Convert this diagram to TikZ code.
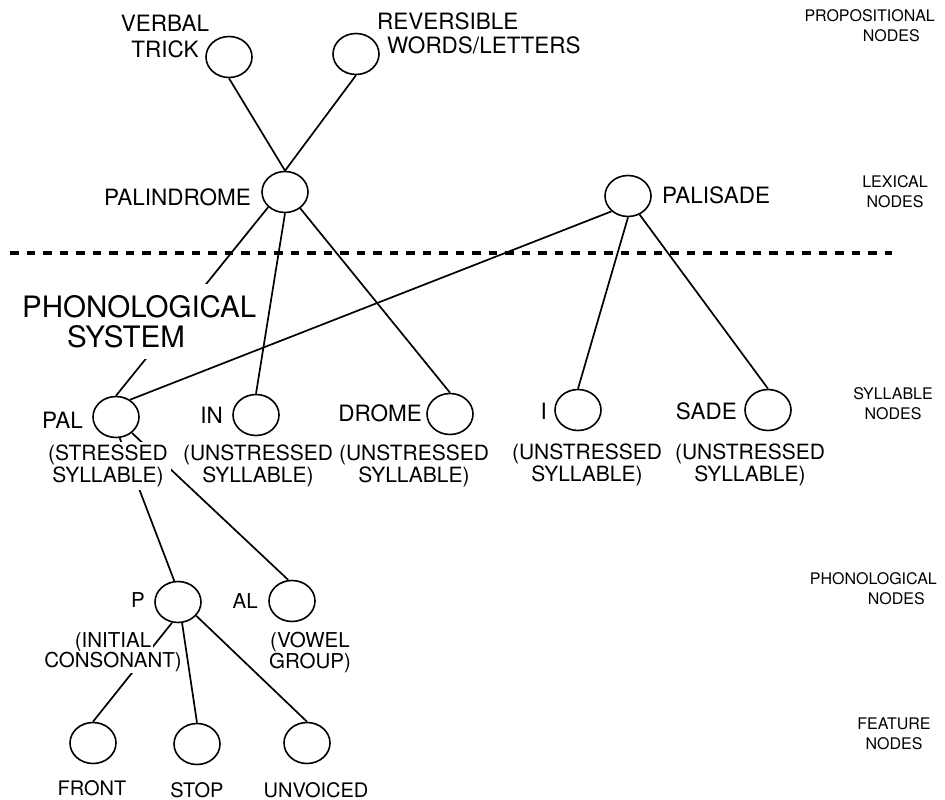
\documentclass[tikz,border=0pt]{standalone}
\usepackage{fontspec}
\setmainfont{TeX Gyre Heros}
\usetikzlibrary{shapes.geometric}
\newcommand\myfs[2]{\fontsize{#1}{#2}\selectfont}
\begin{document}
\begin{tikzpicture}[x=1pt,y=-1pt,
  unit/.style={ellipse, draw, line width=1.6pt, minimum width=46pt, minimum height=41pt, inner sep=0pt},
  lab/.style={inner sep=0pt, font=\myfs{22.5}{26}},
  smlab/.style={inner sep=0pt, font=\myfs{20.5}{21}},
  paren/.style={inner sep=0pt, font=\myfs{21}{22}, align=center},
  side/.style={inner sep=0pt, font=\myfs{16}{20}},
  link/.style={line width=1.7pt},
  divider/.style={line width=3.2pt, dash pattern=on 8.5pt off 8pt},
  hide/.style={fill=white}]
\useasboundingbox (0,0) rectangle (945,800);

% ---- unit nodes
\node[unit] (verbal) at (229,57) {};
\node[unit] (rev) at (356,54) {};
\node[unit] (palin) at (285,192) {};
\node[unit] (palis) at (628,196) {};
\node[unit] (pal) at (116,417) {};
\node[unit] (in) at (256,415) {};
\node[unit] (drome) at (450,414) {};
\node[unit] (i) at (578,410) {};
\node[unit] (sade) at (768,410) {};
\node[unit] (p) at (178,602) {};
\node[unit] (al) at (292,601) {};
\node[unit] (front) at (93,743) {};
\node[unit] (stop) at (197,744) {};
\node[unit] (unv) at (307,743) {};

% ---- labels
\node[lab, align=center, anchor=north] (verballab) at (165,15) {VERBAL\\TRICK};
\node[lab, align=left, anchor=north west, font=\myfs{22.5}{24}] (revlab) at (377,12) {REVERSIBLE\\\hspace*{10pt}WORDS/LETTERS};
\node[lab, anchor=east] (palinlab) at (251,197) {PALINDROME};
\node[lab, anchor=west] (palislab) at (662,195) {PALISADE};
\node[lab, anchor=east] (pallab) at (83,420) {PAL};
\node[lab, anchor=east] (inlab) at (223,415) {IN};
\node[lab, anchor=east] (dromelab) at (422,413) {DROME};
\node[lab, anchor=east] (ilab) at (547,411) {I};
\node[lab, anchor=east] (sadelab) at (737,411) {SADE};
\node[smlab, anchor=east] (plab) at (145,600) {P};
\node[smlab, anchor=east] (allab) at (258,601) {AL};
\node[paren, anchor=north] (inpar) at (258,445) {(UNSTRESSED\\SYLLABLE)};
\node[paren, anchor=north] (dromepar) at (414,445) {(UNSTRESSED\\SYLLABLE)};
\node[paren, anchor=north] (ipar) at (587,444) {(UNSTRESSED\\SYLLABLE)};
\node[paren, anchor=north] (sadepar) at (750,444) {(UNSTRESSED\\SYLLABLE)};
\node[paren, font=\myfs{20.5}{21}, anchor=north] (alpar) at (310,632) {(VOWEL\\GROUP)};
\node[smlab, font=\myfs{20}{22}, anchor=north] (frontlab) at (92,780) {FRONT};
\node[smlab, font=\myfs{20}{22}, anchor=north] (stoplab) at (197,782) {STOP};
\node[smlab, font=\myfs{20}{22}, anchor=north] (unvlab) at (316,782) {UNVOICED};

% ---- level labels
\node[side, align=right, anchor=north east] (propl) at (935,9) {PROPOSITIONAL\\NODES\hspace*{15pt}};
\node[side, align=center, anchor=north] (lexl) at (895,175) {LEXICAL\\NODES};
\node[side, align=center, anchor=north] (syll) at (893,387) {SYLLABLE\\NODES};
\node[side, align=right, anchor=north east] (phonl) at (937,572) {PHONOLOGICAL\\NODES\hspace*{12pt}};
\node[side, align=center, anchor=north] (featl) at (894,718) {FEATURE\\NODES};

% ---- divider
\coordinate (dl) at (10,253);
\coordinate (dr) at (892,253);
\draw[divider] (dl) -- (dr);

% ---- connectors
\draw[link] (verbal.south) -- (palin.north);
\draw[link] (rev.south) -- (palin.north);
\draw[link] (palin.222) -- (pal.north);
\node[hide, inner xsep=2pt, inner ysep=11pt, align=left, anchor=north west, font=\myfs{29.5}{30}] (phonsys) at (20,284) {PHONOLOGICAL\\\hspace*{45pt}SYSTEM};
\draw[link] (palin.south) -- (in.north);
\draw[link] (palin.-47) -- (drome.north);
\draw[link] (palis.223) -- (pal.51);
\draw[link] (palis.south) -- (i.north);
\draw[link] (palis.-58) -- (sade.north);
\draw[link] (pal.-80) -- (p.100);
\draw[link] (pal.-45) -- (al.100);
\draw[link] (p.254) -- (front.north);
\draw[link] (p.-79) -- (stop.north);
\draw[link] (p.-37) -- (unv.north);

% ---- texts laid over connectors
\node[paren, hide, inner xsep=3pt, inner ysep=3pt, anchor=north] (palpar) at (108,442) {(STRESSED\\SYLLABLE)};
\node[smlab, hide, inner sep=1.5pt, anchor=north] (ppar1) at (113,630.5) {(INITIAL};
\node[smlab, hide, inner sep=1.5pt, anchor=north] (ppar2) at (113,650.5) {CONSONANT)};
\end{tikzpicture}
\end{document}
